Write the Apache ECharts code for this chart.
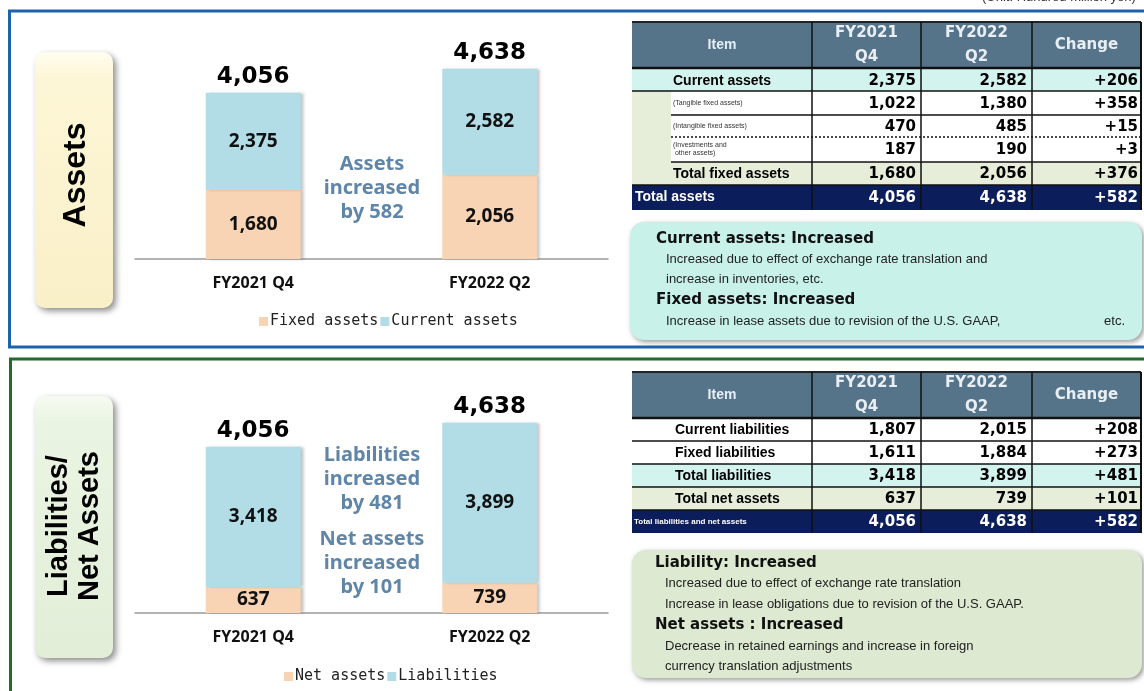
<!DOCTYPE html>
<html>
<head>
<meta charset="utf-8">
<script src="https://cdn.jsdelivr.net/npm/echarts@6/dist/echarts.min.js"></script>
<style>
  html, body { margin: 0; padding: 0; background: #fff; }
  #chart { width: 1144px; height: 691px; }
</style>
</head>
<body>
<div id="chart"></div>
<script>
// chart data
const categories = ['FY2021 Q4', 'FY2022 Q2']
const fixedAssets = [1680, 2056]
const currentAssets = [2375, 2582]
const totalAssets = [4056, 4638]
const netAssets = [637, 739]
const liabilities = [3418, 3899]
const totalLiabNet = [4056, 4638]

// table data
const tableHeader = ['Item', 'FY2021\nQ4', 'FY2022\nQ2', 'Change']
const assetItems = ['Current assets', '(Tangible fixed assets)', '(Intangible fixed assets)', '(Investments and\n other assets)', 'Total fixed assets', 'Total assets']
const assetQ4 = [2375, 1022, 470, 187, 1680, 4056]
const assetQ2 = [2582, 1380, 485, 190, 2056, 4638]
const assetChange = [206, 358, 15, 3, 376, 582]
const liabItems = ['Current liabilities', 'Fixed liabilities', 'Total liabilities', 'Total net assets', 'Total liabilities and net assets']
const liabQ4 = [1807, 1611, 3418, 637, 4056]
const liabQ2 = [2015, 1884, 3899, 739, 4638]
const liabChange = [208, 273, 481, 101, 582]

// comments
const assetNotes = [
  ['Current assets: Increased', true],
  ['Increased due to effect of exchange rate translation and', false],
  ['increase in inventories, etc.', false],
  ['Fixed assets: Increased', true],
  ['Increase in lease assets due to revision of the U.S. GAAP,', false]
]
const liabNotes = [
  ['Liability: Increased', true],
  ['Increased due to effect of exchange rate translation', false],
  ['Increase in lease obligations due to revision of the U.S. GAAP.', false],
  ['Net assets : Increased', true],
  ['Decrease in retained earnings and increase in foreign', false],
  ['currency translation adjustments', false]
]

const C_FIXED = '#f9d4b4'
const C_CURR = '#b2dce6'
const C_MID = '#5f86a8'
const C_CYAN = '#d3f4ee'
const C_GREEN = '#e6eed9'
const C_NAVY = '#0b1d5a'
const C_HEAD = '#557489'

const fmt = v => v.toLocaleString('en-US')

let g = []
function rect(x, y, w, h, fill, extra) {
  g.push(Object.assign({ type: 'rect', silent: true, shape: { x: x, y: y, width: w, height: h }, style: { fill: fill } }, extra || {}))
}
function line(x1, y1, x2, y2, stroke, width, dash) {
  g.push({ type: 'line', silent: true, shape: { x1: x1, y1: y1, x2: x2, y2: y2 },
    style: { stroke: stroke, lineWidth: width, lineDash: dash || null } })
}
function text(x, y, str, font, fill, align, extra) {
  g.push(Object.assign({ type: 'text', silent: true, x: x, y: y,
    style: { text: str, font: font, fill: fill, textAlign: align || 'left', align: align || 'left',
      textVerticalAlign: 'middle', verticalAlign: 'middle', lineHeight: 12 } }, extra || {}))
}

// panel frames
g.push({ type: 'rect', silent: true, shape: { x: 9.5, y: 11, width: 1145, height: 336 },
  style: { fill: 'none', stroke: '#1b63ad', lineWidth: 3 } })
g.push({ type: 'rect', silent: true, shape: { x: 10.5, y: 359, width: 1145, height: 340 },
  style: { fill: 'none', stroke: '#226b2d', lineWidth: 3 } })
text(982, -3, '(Unit: Hundred million yen)', '13px "Liberation Sans"', '#333', 'left')

// side label boxes
g.push({ type: 'rect', silent: true, shape: { x: 35, y: 52, width: 78, height: 256, r: 10 },
  style: { fill: { type: 'linear', x: 0, y: 0, x2: 0, y2: 1, colorStops: [{ offset: 0, color: '#fffdf0' }, { offset: 0.1, color: '#fdf6d6' }, { offset: 1, color: '#f9f0c8' }] },
    shadowBlur: 6, shadowColor: 'rgba(0,0,0,0.45)', shadowOffsetX: 3, shadowOffsetY: 3 } })
g.push({ type: 'text', silent: true, x: 76, y: 175, rotation: Math.PI / 2,
  style: { text: 'Assets', font: 'bold 32px "Liberation Sans"', fill: '#000', textAlign: 'center', align: 'center', textVerticalAlign: 'middle', verticalAlign: 'middle' } })
g.push({ type: 'rect', silent: true, shape: { x: 35, y: 396, width: 78, height: 262, r: 10 },
  style: { fill: { type: 'linear', x: 0, y: 0, x2: 0, y2: 1, colorStops: [{ offset: 0, color: '#f6fbf1' }, { offset: 0.1, color: '#eaf4e2' }, { offset: 1, color: '#e2eed8' }] },
    shadowBlur: 6, shadowColor: 'rgba(0,0,0,0.45)', shadowOffsetX: 3, shadowOffsetY: 3 } })
g.push({ type: 'text', silent: true, x: 74, y: 526, rotation: Math.PI / 2,
  style: { text: 'Liabilities/\nNet Assets', font: 'bold 29px "Liberation Sans"', lineHeight: 31, fill: '#000', textAlign: 'center', align: 'center', textVerticalAlign: 'middle', verticalAlign: 'middle' } })

// middle commentary
const midFont = 'bold 20px "Noto Sans"'
;['Assets', 'increased', 'by 582'].forEach((s, i) => text(372, 164 + i * 24, s, midFont, C_MID, 'center'))
;['Liabilities', 'increased', 'by 481'].forEach((s, i) => text(372, 455 + i * 24, s, midFont, C_MID, 'center'))
;['Net assets', 'increased', 'by 101'].forEach((s, i) => text(372, 539 + i * 24, s, midFont, C_MID, 'center'))

// tables
const colX = [632, 812, 921, 1032, 1141]
const numFont = 'bold 15px "DejaVu Sans"'
const headFont = 'bold 15px "DejaVu Sans"'
function header(y0, h) {
  rect(colX[0], y0, colX[4] - colX[0], h, C_HEAD)
  tableHeader.forEach((s, i) => {
    const cx = (colX[i] + colX[i + 1]) / 2
    if (i === 0) text(cx, y0 + h / 2, s, 'bold 14px "Liberation Sans"', '#e8eef3', 'center')
    else g.push({ type: 'text', silent: true, x: cx, y: y0 + h / 2, style: { text: s, font: headFont, lineHeight: 24, fill: '#e8eef3',
      textAlign: 'center', align: 'center', textVerticalAlign: 'middle', verticalAlign: 'middle' } })
  })
  line(colX[0], y0, colX[4], y0, '#222', 2)
}
function numCells(yc, q4, q2, ch, color) {
  text(colX[2] - 5, yc, fmt(q4), numFont, color, 'right')
  text(colX[3] - 5, yc, fmt(q2), numFont, color, 'right')
  text(colX[4] - 3, yc, '+' + fmt(ch), numFont, color, 'right')
}

// assets table
const aY = [69, 91, 115, 137, 162, 185, 210]
header(22, 46)
const aFill = [C_CYAN, '#fff', '#fff', '#fff', C_GREEN, C_NAVY]
assetItems.forEach((s, i) => {
  const y0 = aY[i], y1 = aY[i + 1], yc = (y0 + y1) / 2
  rect(colX[0], y0, colX[4] - colX[0], y1 - y0, aFill[i])
  if (i >= 1 && i <= 4) rect(colX[0], y0, 39, y1 - y0, C_GREEN)
  const col = i === 5 ? '#fff' : '#000'
  if (i === 0 || i === 4) text(673, yc + 1, s, 'bold 14px "Liberation Sans"', col)
  else if (i === 5) text(635, yc, s, 'bold 14px "Liberation Sans"', col)
  else g.push({ type: 'text', silent: true, x: 673, y: yc, style: { text: s, font: '7px "Liberation Sans"', lineHeight: 8, fill: '#333',
    textAlign: 'left', align: 'left', textVerticalAlign: 'middle', verticalAlign: 'middle' } })
  numCells(yc + 1, assetQ4[i], assetQ2[i], assetChange[i], col)
})
line(colX[0], 68, colX[4], 68, '#111', 2.5)
line(colX[0], 91, colX[4], 91, '#111', 1.5)
line(671, 115, colX[4], 115, '#111', 1.5)
line(671, 137, colX[4], 137, '#111', 1.5, [2, 2])
line(671, 162, colX[4], 162, '#111', 1.5)
line(colX[0], 185, colX[4], 185, '#111', 1.5)
;[1, 2, 3].forEach(k => line(colX[k], 22, colX[k], 210, '#111', 1.5))
line(colX[4], 22, colX[4], 210, '#111', 2)

// liabilities table
const lY = [418, 441, 464, 487, 510, 533]
header(372, 46)
const lFill = ['#fff', '#fff', C_CYAN, C_GREEN, C_NAVY]
liabItems.forEach((s, i) => {
  const y0 = lY[i], y1 = lY[i + 1], yc = (y0 + y1) / 2
  rect(colX[0], y0, colX[4] - colX[0], y1 - y0, lFill[i])
  const col = i === 4 ? '#fff' : '#000'
  if (i === 4) text(634, yc, s, 'bold 8px "Liberation Sans"', col)
  else text(675, yc + 1, s, 'bold 14px "Liberation Sans"', col)
  numCells(yc + 1, liabQ4[i], liabQ2[i], liabChange[i], col)
})
line(colX[0], 418, colX[4], 418, '#111', 2.5)
;[441, 464, 487, 510].forEach(y => line(colX[0], y, colX[4], y, '#111', 1.5))
;[1, 2, 3].forEach(k => line(colX[k], 372, colX[k], 533, '#111', 1.5))
line(colX[4], 372, colX[4], 533, '#111', 2)

// note boxes
g.push({ type: 'rect', silent: true, shape: { x: 630, y: 222, width: 512, height: 118, r: 14 },
  style: { fill: '#c8f1ea', shadowBlur: 5, shadowColor: 'rgba(0,0,0,0.4)', shadowOffsetX: 2, shadowOffsetY: 2 } })
const aNoteY = [239, 259, 279, 300, 321]
assetNotes.forEach((n, i) => {
  if (n[1]) text(656, aNoteY[i], n[0], 'bold 15px "DejaVu Sans"', '#111')
  else text(666, aNoteY[i], n[0], '13px "Liberation Sans"', '#222')
})
text(1125, 321, 'etc.', '13px "Liberation Sans"', '#222', 'right')

g.push({ type: 'rect', silent: true, shape: { x: 632, y: 550, width: 510, height: 128, r: 14 },
  style: { fill: '#dde9d1', shadowBlur: 5, shadowColor: 'rgba(0,0,0,0.4)', shadowOffsetX: 2, shadowOffsetY: 2 } })
const lNoteY = [563, 583, 604, 625, 646, 666]
liabNotes.forEach((n, i) => {
  if (n[1]) text(655, lNoteY[i], n[0], 'bold 15px "DejaVu Sans"', '#111')
  else text(665, lNoteY[i], n[0], '13px "Liberation Sans"', '#222')
})

// bars
const barShadow = { shadowColor: 'rgba(0,0,0,0.25)', shadowBlur: 3, shadowOffsetX: 3 }
const inLabel = { show: true, position: 'inside', fontSize: 19, fontWeight: 'bold', fontFamily: 'Noto Sans', color: '#111',
  formatter: p => fmt(p.value) }
const topLabel = { show: true, position: 'top', distance: 4, fontSize: 23, fontWeight: 'bold', fontFamily: 'DejaVu Sans', color: '#000',
  formatter: p => fmt(p.value) }
function bar(name, data, idx, stack, color) {
  return { name: name, type: 'bar', stack: stack, xAxisIndex: idx, yAxisIndex: idx, barWidth: 95, data: data,
    itemStyle: Object.assign({ color: color }, barShadow), label: inLabel }
}
function totals(data, idx) {
  return { type: 'scatter', xAxisIndex: idx, yAxisIndex: idx, symbolSize: 1, data: data,
    itemStyle: { color: 'rgba(0,0,0,0)', opacity: 1 }, label: topLabel, silent: true }
}
const xAx = idx => ({
  type: 'category', gridIndex: idx, data: categories,
  axisLine: { lineStyle: { color: '#9a9a9a', width: 1.5 } },
  axisTick: { show: false },
  axisLabel: { margin: 16, fontSize: 16, fontWeight: 'bold', fontFamily: 'Noto Sans', color: '#111' }
})
const yAx = idx => ({ type: 'value', gridIndex: idx, min: 0, max: 5000, show: false, splitLine: { show: false } })
const legendCfg = (names, left, top) => ({
  data: names, left: left, top: top, icon: 'rect', itemWidth: 9, itemHeight: 9, itemGap: 2,
  itemStyle: { shadowBlur: 0, shadowOffsetX: 0 },
  textStyle: { fontSize: 15, fontFamily: 'DejaVu Sans Mono', color: '#222', padding: [0, 0, 0, -3] },
  selectedMode: false
})

const myChart = echarts.init(document.getElementById('chart'))
myChart.setOption({
  animation: false,
  grid: [
    { left: 135, width: 473, top: 54, height: 205 },
    { left: 135, width: 473, top: 408, height: 205 }
  ],
  xAxis: [xAx(0), xAx(1)],
  yAxis: [yAx(0), yAx(1)],
  legend: [
    legendCfg(['Fixed assets', 'Current assets'], 254, 309),
    legendCfg(['Net assets', 'Liabilities'], 279, 664)
  ],
  series: [
    bar('Fixed assets', fixedAssets, 0, 'a', C_FIXED),
    bar('Current assets', currentAssets, 0, 'a', C_CURR),
    totals(totalAssets, 0),
    bar('Net assets', netAssets, 1, 'b', C_FIXED),
    bar('Liabilities', liabilities, 1, 'b', C_CURR),
    totals(totalLiabNet, 1)
  ],
  graphic: g
})
</script>
</body>
</html>
